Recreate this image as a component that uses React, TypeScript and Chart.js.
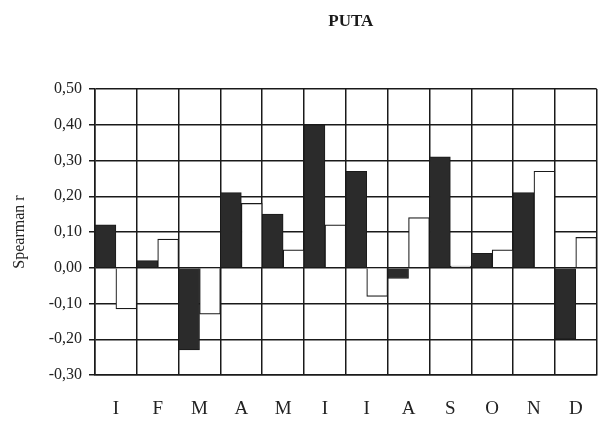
import React, { useEffect, useRef } from "react";
import { Chart, registerables } from "chart.js";

Chart.register(...registerables);

const chartTitle = "PUTA";
const yAxisTitle = "Spearman r";
const months = ["I", "F", "M", "A", "M", "I", "I", "A", "S", "O", "N", "D"];
const darkSeries = [0.12, 0.02, -0.23, 0.21, 0.15, 0.4, 0.27, -0.03, 0.31, 0.04, 0.21, -0.2];
const whiteSeries = [-0.115, 0.08, -0.13, 0.18, 0.05, 0.12, -0.08, 0.14, 0.005, 0.05, 0.27, 0.085];
const yMin = -0.3;
const yMax = 0.5;
const yStep = 0.1;

const FONT = "'Liberation Serif', 'DejaVu Serif', serif";

const titlePlugin = {
  id: "topTitle",
  afterDraw(chart: any) {
    const { ctx, chartArea } = chart;
    ctx.save();
    ctx.font = `bold 17px ${FONT}`;
    ctx.fillStyle = "#1a1a1a";
    ctx.textAlign = "center";
    ctx.textBaseline = "middle";
    ctx.fillText(chartTitle, (chartArea.left + chartArea.right) / 2 + 5, 22);
    ctx.restore();
  },
};

export default function App() {
  const ref = useRef<HTMLCanvasElement | null>(null);

  useEffect(() => {
    if (!ref.current) return;
    const chart = new Chart(ref.current, {
      type: "bar",
      data: {
        labels: months,
        datasets: [
          {
            data: darkSeries,
            backgroundColor: "#2b2b2b",
            borderColor: "#1a1a1a",
            borderWidth: 1,
            categoryPercentage: 1,
            barPercentage: 1,
          },
          {
            data: whiteSeries,
            backgroundColor: "#ffffff",
            borderColor: "#1a1a1a",
            borderWidth: 1.2,
            categoryPercentage: 1,
            barPercentage: 1,
          },
        ],
      },
      options: {
        responsive: false,
        animation: false,
        layout: { padding: { top: 89, right: 9, bottom: 0, left: 0 } },
        plugins: {
          legend: { display: false },
          tooltip: { enabled: false },
          title: { display: false },
        },
        scales: {
          x: {
            grid: {
              offset: true,
              color: "#1a1a1a",
              lineWidth: 1.5,
              drawTicks: false,
              tickLength: 0,
            },
            border: { color: "#1a1a1a", width: 1.5 },
            ticks: {
              color: "#222",
              font: { family: FONT, size: 19 },
              padding: 23,
            },
            afterFit(scale: any) {
              scale.height = 47;
            },
          },
          y: {
            min: yMin,
            max: yMax,
            grid: {
              color: "#1a1a1a",
              lineWidth: 1.5,
              tickLength: 6,
            },
            border: { color: "#1a1a1a", width: 1.5 },
            ticks: {
              stepSize: yStep,
              color: "#222",
              font: { family: FONT, size: 16 },
              padding: 7,
              callback: (v: any) => Number(v).toFixed(2).replace(".", ","),
            },
            title: {
              display: true,
              text: yAxisTitle,
              color: "#222",
              font: { family: FONT, size: 16 },
              padding: { top: 10, bottom: 0 },
            },
            afterFit(scale: any) {
              scale.width = 95;
            },
          },
        },
      },
      plugins: [titlePlugin],
    });
    return () => chart.destroy();
  }, []);

  return (
    <div style={{ position: "fixed", left: 0, top: 0, width: 606, height: 422, background: "#fff" }}>
      <canvas ref={ref} width={606} height={422} style={{ width: 606, height: 422, display: "block" }} />
    </div>
  );
}
